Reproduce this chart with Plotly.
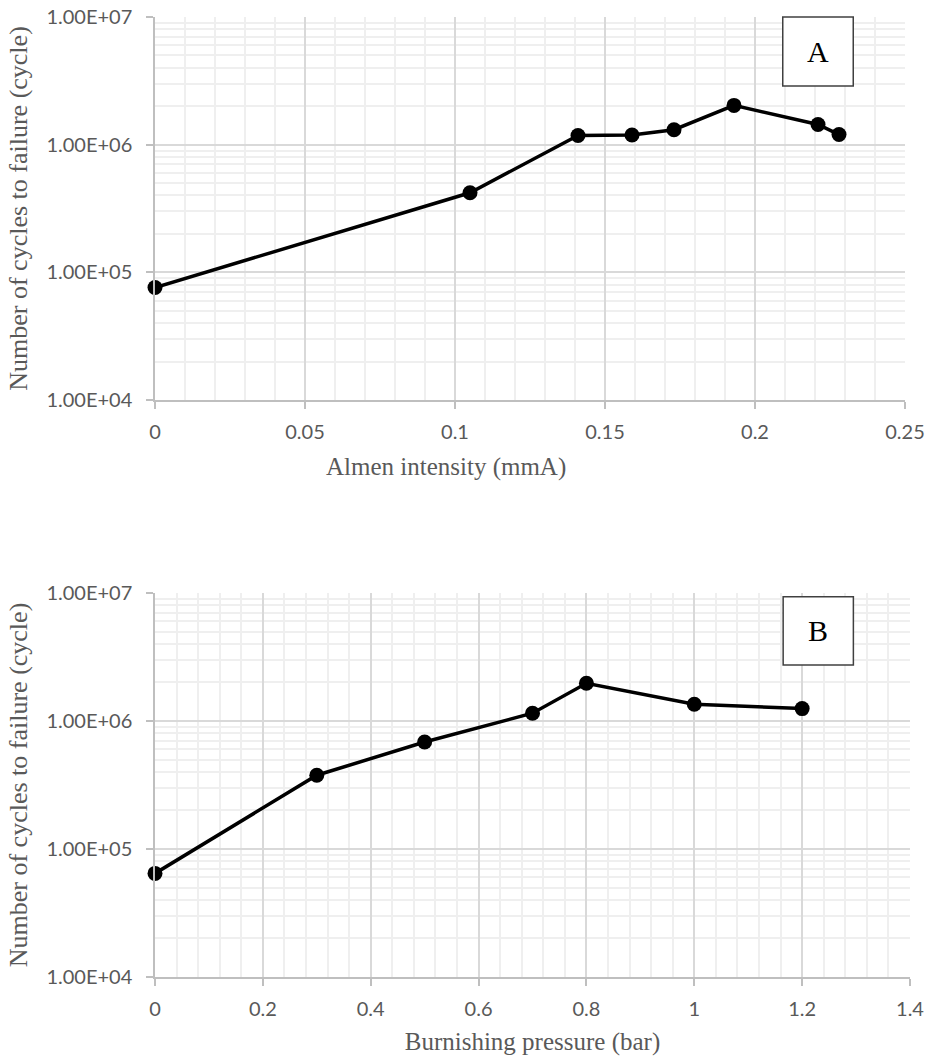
import plotly.graph_objects as go

# Panel A: shot peening
almen_intensity = [0, 0.105, 0.141, 0.159, 0.173, 0.193, 0.221, 0.228]
cycles_a = [7.6e4, 4.2e5, 1.18e6, 1.19e6, 1.31e6, 2.03e6, 1.44e6, 1.2e6]

# Panel B: burnishing
burnishing_pressure = [0, 0.3, 0.5, 0.7, 0.8, 1.0, 1.2]
cycles_b = [6.45e4, 3.77e5, 6.85e5, 1.15e6, 1.97e6, 1.35e6, 1.25e6]

y_tickvals = [1e4, 1e5, 1e6, 1e7]
y_ticktext = ["1.00E+04", "1.00E+05", "1.00E+06", "1.00E+07"]

TICK_FONT = dict(family="Lato", size=20, color="#595959")
TITLE_FONT = dict(family="Liberation Serif", size=25, color="#595959")
YTITLE_FONT = dict(family="Liberation Serif", size=26, color="#595959")
AXIS_COLOR = "#bfbfbf"
MAJOR_GRID = "#d9d9d9"
MINOR_GRID = "#efefef"

W, H = 926, 1061
ML, MR, MT, MB = 155, 16, 17, 84
PW, PH = W - ML - MR, H - MT - MB

TOP_XDOM = [0, 750 / PW]
BOT_XDOM = [0, 1.0]
TOP_YDOM = [1 - 383 / PH, 1.0]
BOT_YDOM = [0.0, 384 / PH]

fig = go.Figure()
line_style = dict(color="black", width=3.5)
marker_style = dict(color="black", size=15)

fig.add_trace(go.Scatter(x=almen_intensity, y=cycles_a, mode="lines+markers",
                         line=line_style, marker=marker_style, cliponaxis=False,
                         xaxis="x", yaxis="y", showlegend=False))
fig.add_trace(go.Scatter(x=burnishing_pressure, y=cycles_b, mode="lines+markers",
                         line=line_style, marker=marker_style, cliponaxis=False,
                         xaxis="x2", yaxis="y2", showlegend=False))

def xaxis(rng, dtick, minor_dtick, title, domain, anchor):
    return dict(range=rng, dtick=dtick, tick0=0, domain=domain, anchor=anchor,
                automargin=False,
                showline=True, linecolor=AXIS_COLOR, linewidth=1.5,
                ticks="outside", ticklen=7, tickcolor=AXIS_COLOR, tickwidth=1.5,
                tickfont=TICK_FONT, ticklabelstandoff=6,
                showgrid=True, gridcolor=MAJOR_GRID, gridwidth=1.5,
                zeroline=False, mirror=False,
                minor=dict(dtick=minor_dtick, tick0=0, showgrid=True, gridcolor=MINOR_GRID,
                           gridwidth=1.5, ticks=""),
                title=dict(text=title, font=TITLE_FONT, standoff=14))

def yaxis(domain, anchor, title):
    return dict(type="log", range=[4, 7], domain=domain, anchor=anchor,
                automargin=False,
                tickvals=y_tickvals, ticktext=y_ticktext,
                showline=True, linecolor=AXIS_COLOR, linewidth=1.5,
                ticks="outside", ticklen=7, tickcolor=AXIS_COLOR, tickwidth=1.5,
                tickfont=TICK_FONT, ticklabelstandoff=10,
                showgrid=True, gridcolor=MAJOR_GRID, gridwidth=1.5, zeroline=False,
                minor=dict(dtick="D1", showgrid=True, gridcolor=MINOR_GRID, gridwidth=1.5, ticks=""),
                title=dict(text=title, font=YTITLE_FONT, standoff=11))

ytitle = "Number of cycles to failure (cycle)"
fig.update_layout(
    width=W, height=H,
    margin=dict(l=ML, r=MR, t=MT, b=MB),
    paper_bgcolor="white", plot_bgcolor="white",
    xaxis=xaxis([0, 0.25], 0.05, 0.01, "", TOP_XDOM, "y"),
    yaxis=yaxis(TOP_YDOM, "x", ytitle),
    xaxis2=xaxis([0, 1.4], 0.2, 0.04, "Burnishing pressure (bar)", BOT_XDOM, "y2"),
    yaxis2=yaxis(BOT_YDOM, "x2", ytitle),
)

# Top x-axis title sits left of centre in the original
fig.add_annotation(xref="paper", yref="paper", x=(446 - ML) / PW, y=(H - MB - 467) / PH,
                   xanchor="center", yanchor="middle", showarrow=False,
                   text="Almen intensity (mmA)", font=TITLE_FONT)

# Panel label boxes (positions given as fractions of each subplot, converted to paper)
def to_paper(dom, f):
    return dom[0] + f * (dom[1] - dom[0])

for xdom, ydom, fx0, fx1, fy0, fy1, label in [
    (TOP_XDOM, TOP_YDOM, 0.837, 0.931, 0.82, 1.0, "A"),
    (BOT_XDOM, BOT_YDOM, 0.832, 0.925, 0.8125, 0.99, "B"),
]:
    x0, x1 = to_paper(xdom, fx0), to_paper(xdom, fx1)
    y0, y1 = to_paper(ydom, fy0), to_paper(ydom, fy1)
    fig.add_shape(type="rect", xref="paper", yref="paper", x0=x0, x1=x1, y0=y0, y1=y1,
                  line=dict(color="#404040", width=1.5), fillcolor="white", layer="above")
    fig.add_annotation(xref="paper", yref="paper", x=(x0 + x1) / 2, y=(y0 + y1) / 2,
                       xanchor="center", yanchor="middle",
                       text=label, showarrow=False,
                       font=dict(family="Liberation Serif", size=30, color="black"))

fig.write_html("out.html")
